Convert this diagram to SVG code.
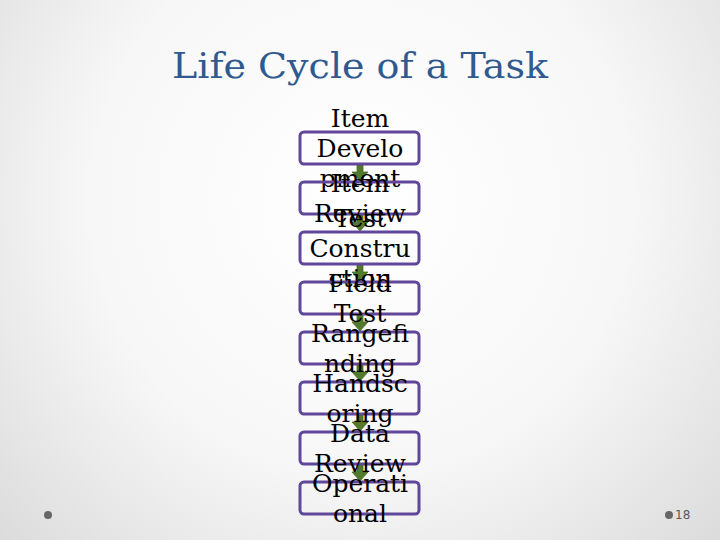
<svg xmlns="http://www.w3.org/2000/svg" width="720" height="540" viewBox="0 0 720 540">
<defs>
<radialGradient id="bg" gradientUnits="userSpaceOnUse" cx="360" cy="200" r="540">
<stop offset="0" stop-color="#ffffff"/>
<stop offset="0.5" stop-color="#f7f7f7"/>
<stop offset="1" stop-color="#d6d6d6"/>
</radialGradient>
<path id="arr" d="M-3,0 H3 V7 H8 L0,16 L-8,7 H-3 Z"/>
</defs>
<style>
.box{fill:none;stroke:#60479a;stroke-width:3}
.lbl{font-family:"DejaVu Serif",serif;font-size:25px;fill:#000;text-anchor:middle}
.arrow{fill:#537a2c;stroke:#466a22;stroke-width:0.8}
.title{font-family:"DejaVu Serif",serif;font-size:36px;fill:#30598f;text-anchor:middle}
.dot{fill:#666}
.num{font-family:"DejaVu Sans",sans-serif;font-size:12px;fill:#595959}
</style>
<rect width="720" height="540" fill="url(#bg)"/>
<text class="title" x="360" y="78" textLength="376" lengthAdjust="spacingAndGlyphs">Life Cycle of a Task</text>
<g id="connectors">
<use href="#arr" class="arrow" x="360" y="165"/>
<use href="#arr" class="arrow" x="360" y="215"/>
<use href="#arr" class="arrow" x="360" y="265"/>
<use href="#arr" class="arrow" x="360" y="315"/>
<use href="#arr" class="arrow" x="360" y="365"/>
<use href="#arr" class="arrow" x="360" y="415"/>
<use href="#arr" class="arrow" x="360" y="465"/>
</g>
<g id="n1"><rect class="box" x="300" y="132" width="119" height="32" rx="4"/><text class="lbl" x="360" y="127">Item</text><text class="lbl" x="360" y="157">Develo</text><text class="lbl" x="360" y="187">pment</text></g>
<g id="n2"><rect class="box" x="300" y="182" width="119" height="32" rx="4"/><text class="lbl" x="360" y="192">Item</text><text class="lbl" x="360" y="222">Review</text></g>
<g id="n3"><rect class="box" x="300" y="232" width="119" height="32" rx="4"/><text class="lbl" x="360" y="227">Test</text><text class="lbl" x="360" y="257">Constru</text><text class="lbl" x="360" y="287">ction</text></g>
<g id="n4"><rect class="box" x="300" y="282" width="119" height="32" rx="4"/><text class="lbl" x="360" y="292">Field</text><text class="lbl" x="360" y="322">Test</text></g>
<g id="n5"><rect class="box" x="300" y="332" width="119" height="32" rx="4"/><text class="lbl" x="360" y="342">Rangefi</text><text class="lbl" x="360" y="372">nding</text></g>
<g id="n6"><rect class="box" x="300" y="382" width="119" height="32" rx="4"/><text class="lbl" x="360" y="392">Handsc</text><text class="lbl" x="360" y="422">oring</text></g>
<g id="n7"><rect class="box" x="300" y="432" width="119" height="32" rx="4"/><text class="lbl" x="360" y="442">Data</text><text class="lbl" x="360" y="472">Review</text></g>
<g id="n8"><rect class="box" x="300" y="482" width="119" height="32" rx="4"/><text class="lbl" x="360" y="492">Operati</text><text class="lbl" x="360" y="522">onal</text></g>
<circle class="dot" cx="48" cy="515" r="4"/>
<circle class="dot" cx="669" cy="515" r="4"/>
<text class="num" x="675" y="519">18</text>
</svg>
